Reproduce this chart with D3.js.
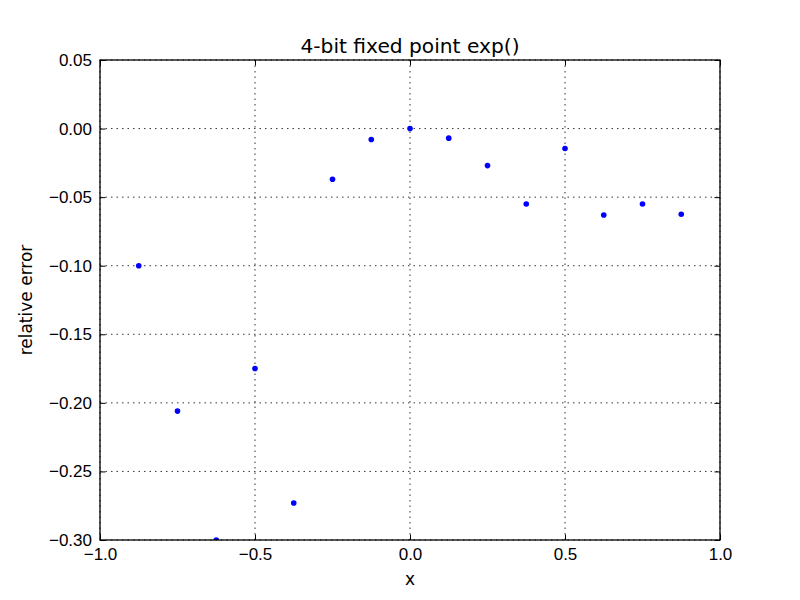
<!DOCTYPE html>
<html>
<head>
<meta charset="utf-8">
<script src="https://cdn.jsdelivr.net/npm/d3@7"></script>
<style>
  body { margin: 0; background: #fff; }
  svg { font-family: "DejaVu Sans", sans-serif; }
</style>
</head>
<body>
<svg id="chart" width="800" height="600"></svg>
<script>
// values
var xValues = [-0.875, -0.75, -0.625, -0.5, -0.375, -0.25, -0.125, 0, 0.125, 0.25, 0.375, 0.5, 0.625, 0.75, 0.875];
var relErr = [-0.100, -0.206, -0.300, -0.175, -0.273, -0.037, -0.008, 0.0, -0.007, -0.027, -0.055, -0.0145, -0.063, -0.055, -0.0625];
var xTicks = [-1.0, -0.5, 0.0, 0.5, 1.0];
var yTicks = [0.05, 0.00, -0.05, -0.10, -0.15, -0.20, -0.25, -0.30];

var svg = d3.select("#chart");
var plotL = 100, plotR = 720, plotT = 60, plotB = 540;

var x = d3.scaleLinear().domain([-1, 1]).range([plotL, plotR]);
var y = d3.scaleLinear().domain([-0.30, 0.05]).range([plotB, plotT]);

svg.append("rect").attr("width", 800).attr("height", 600).attr("fill", "#fff");

// dotted grid
var grid = svg.append("g").attr("stroke", "#000").attr("stroke-width", 0.8)
    .attr("stroke-dasharray", "1.5,4");
grid.selectAll(".gx").data(xTicks).enter().append("line")
    .attr("x1", d => x(d)).attr("x2", d => x(d))
    .attr("y1", plotT).attr("y2", plotB);
grid.selectAll(".gy").data(yTicks).enter().append("line")
    .attr("y1", d => y(d)).attr("y2", d => y(d))
    .attr("x1", plotL).attr("x2", plotR);

// points (clipped to axes)
svg.append("clipPath").attr("id", "clip").append("rect")
    .attr("x", plotL).attr("y", plotT).attr("width", plotR - plotL).attr("height", plotB - plotT);
svg.append("g").attr("clip-path", "url(#clip)")
    .selectAll("circle").data(xValues).enter().append("circle")
    .attr("cx", d => x(d)).attr("cy", (d, i) => y(relErr[i]))
    .attr("r", 2.8).attr("fill", "#0000ff");

// axes, ticks pointing inward on all sides
var tickLen = 5.5;
var ax = svg.append("g");
ax.append("g").attr("transform", "translate(0," + plotB + ")")
  .call(d3.axisBottom(x).tickValues(xTicks).tickSizeInner(-tickLen).tickSizeOuter(0).tickPadding(8).tickFormat(d3.format(".1f")));
ax.append("g").attr("transform", "translate(0," + plotT + ")")
  .call(d3.axisTop(x).tickValues(xTicks).tickSizeInner(-tickLen).tickSizeOuter(0).tickFormat(""));
ax.append("g").attr("transform", "translate(" + plotL + ",0)")
  .call(d3.axisLeft(y).tickValues(yTicks).tickSizeInner(-tickLen).tickSizeOuter(0).tickPadding(8).tickFormat(d3.format(".2f")));
ax.append("g").attr("transform", "translate(" + plotR + ",0)")
  .call(d3.axisRight(y).tickValues(yTicks).tickSizeInner(-tickLen).tickSizeOuter(0).tickFormat(""));
ax.selectAll(".domain").remove();
ax.selectAll("text").attr("font-size", 17).attr("fill", "#000")
  .text(function () { return d3.select(this).text().replace("-", "\u2212"); });
ax.selectAll("line").attr("stroke", "#000");

svg.append("rect").attr("x", plotL).attr("y", plotT).attr("width", plotR - plotL).attr("height", plotB - plotT)
    .attr("fill", "none").attr("stroke", "#000").attr("stroke-width", 1.3);

// labels
svg.append("text").attr("x", (plotL + plotR) / 2).attr("y", 53).attr("text-anchor", "middle")
    .attr("font-size", 20.2).text("4-bit fixed point exp()");
svg.append("text").attr("x", (plotL + plotR) / 2).attr("y", 585).attr("text-anchor", "middle")
    .attr("font-size", 17).text("x");
svg.append("text").attr("transform", "translate(32," + ((plotT + plotB) / 2) + ") rotate(-90)")
    .attr("text-anchor", "middle").attr("font-size", 17).text("relative error");
</script>
</body>
</html>
